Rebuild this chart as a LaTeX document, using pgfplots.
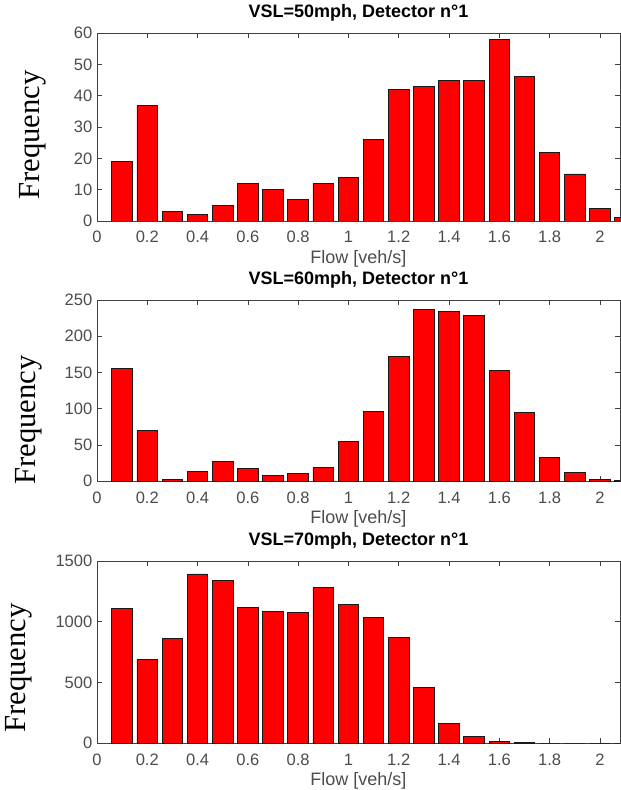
\documentclass[border=0pt]{standalone}
\usepackage{fontspec}
\setmainfont{Liberation Sans}
\newfontfamily\seriffont{Liberation Serif}
\usepackage{pgfplots}
\pgfplotsset{compat=1.18}
\definecolor{axgray}{gray}{0.3}
\pgfplotsset{
 hist/.style={
  scale only axis, width=392.25pt, xmin=0, xmax=2.08, ymin=0,
  xtick={0,0.2,0.4,0.6,0.8,1,1.2,1.4,1.6,1.8,2},
  tick align=inside, major tick length=3.75pt,
  axis line style={black!75}, every tick/.style={black!75},
  tick label style={font=\fontsize{12.4}{14}\selectfont, text=axgray},
  /pgf/number format/assume math mode=true, /pgf/number format/1000 sep={},
  scaled y ticks=false,
  xticklabel style={anchor=base, yshift=-16.5pt},
  xlabel={Flow [veh/s]},
  xlabel style={font=\fontsize{13.5}{16}\selectfont, text=axgray, at={(axis description cs:0.5,0)}, anchor=base, yshift=-32pt},
  title style={font=\bfseries\fontsize{13.5}{16}\selectfont, at={(axis description cs:0.5,1)}, anchor=base, yshift=6pt},
  ylabel={Frequency},
  ylabel style={font=\seriffont\fontsize{23}{26}\selectfont, anchor=center},
 },
 bars/.style={ybar, bar width=0.082, fill=red, draw=black!90, line width=0.7pt},
}
\begin{document}
\begin{tikzpicture}
\path[use as bounding box] (0,0) rectangle (465.75pt,-592.5pt);
\begin{axis}[hist, at={(72.75pt,-24.75pt)}, anchor=north west, height=141pt,
  ymax=60, ytick={0,10,20,30,40,50,60},
  title={VSL=50mph, Detector n°1},
  ylabel style={at={(axis description cs:-0.122,0.457)}}]
\addplot[bars] coordinates {(0.1,19) (0.2,37) (0.3,3) (0.4,2) (0.5,5) (0.6,12) (0.7,10) (0.8,7) (0.9,12) (1.0,14) (1.1,26) (1.2,42) (1.3,43) (1.4,45) (1.5,45) (1.6,58) (1.7,46) (1.8,22) (1.9,15) (2.0,4) (2.1,1)};
\end{axis}
\begin{axis}[hist, at={(72.75pt,-225pt)}, anchor=north west, height=135.75pt,
  ymax=250, ytick={0,50,100,150,200,250},
  title={VSL=60mph, Detector n°1},
  ylabel style={at={(axis description cs:-0.130,0.337)}}]
\addplot[bars] coordinates {(0.1,155) (0.2,70) (0.3,2) (0.4,13) (0.5,27) (0.6,17) (0.7,8) (0.8,11) (0.9,19) (1.0,55) (1.1,96) (1.2,172) (1.3,237) (1.4,234) (1.5,229) (1.6,152) (1.7,95) (1.8,33) (1.9,12) (2.0,2) (2.1,1)};
\end{axis}
\begin{axis}[hist, at={(72.75pt,-420.75pt)}, anchor=north west, height=136.5pt,
  ymax=1500, ytick={0,500,1000,1500},
  title={VSL=70mph, Detector n°1},
  ylabel style={at={(axis description cs:-0.149,0.412)}}]
\addplot[bars] coordinates {(0.1,1107) (0.2,692) (0.3,860) (0.4,1393) (0.5,1340) (0.6,1116) (0.7,1087) (0.8,1074) (0.9,1282) (1.0,1140) (1.1,1033) (1.2,873) (1.3,458) (1.4,162) (1.5,52) (1.6,10) (1.7,4) (1.8,0) (1.9,0) (2.0,0) (2.1,0)};
\end{axis}
\end{tikzpicture}
\end{document}
